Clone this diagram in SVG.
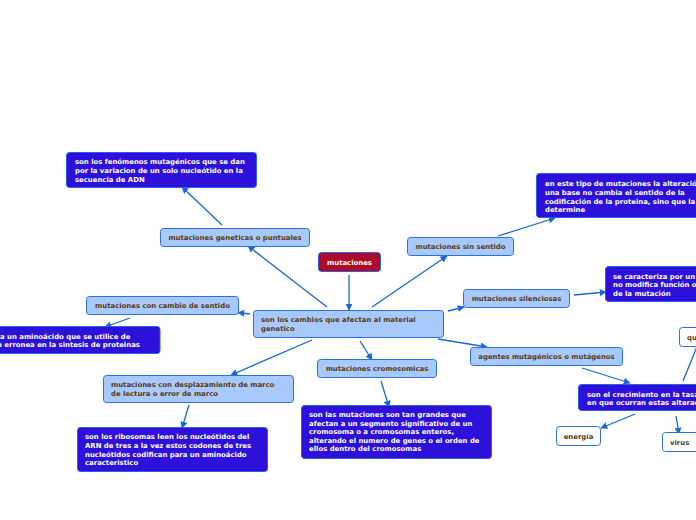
<svg xmlns="http://www.w3.org/2000/svg" width="696" height="520" viewBox="0 0 696 520">
<style>
.lb{fill:#a8c9fb;stroke:#2a72e0;stroke-width:1}
.db{fill:#2d10d9;stroke:#2a60e8;stroke-width:1}
.wb{fill:#ffffff;stroke:#2a72e0;stroke-width:1}
.rb{fill:#ab0d2b;stroke:#2a60e8;stroke-width:1}
text{font-family:"DejaVu Sans",Verdana,sans-serif;font-weight:bold;font-size:6.9px}
.tl{fill:#5a3814}
.tw{fill:#ffffff}
.c{text-anchor:middle}
.con line{stroke:#1a66d8;stroke-width:1.3;marker-end:url(#ah)}
</style>
<defs>
<marker id="ah" viewBox="0 0 10 10" refX="9" refY="5" markerWidth="7" markerHeight="7" markerUnits="userSpaceOnUse" orient="auto">
<path d="M0,0 L10,5 L0,10 z" fill="#1a66d8"/>
</marker>
</defs>
<rect width="696" height="520" fill="#ffffff"/>
<g class="con">
<line x1="349" y1="275" x2="349" y2="310"/>
<line x1="327" y1="307" x2="248" y2="246"/>
<line x1="222" y1="225" x2="182" y2="187"/>
<line x1="250" y1="314" x2="238" y2="312.5"/>
<line x1="130" y1="318" x2="105" y2="327"/>
<line x1="372" y1="307" x2="447" y2="256"/>
<line x1="498" y1="236" x2="555" y2="218"/>
<line x1="448" y1="311" x2="464" y2="307"/>
<line x1="574" y1="295" x2="606" y2="292"/>
<line x1="438" y1="339" x2="487" y2="347"/>
<line x1="582" y1="368" x2="630" y2="383"/>
<line x1="635" y1="414" x2="601" y2="428"/>
<line x1="676" y1="416" x2="679" y2="434"/>
<line x1="683" y1="381" x2="699" y2="342"/>
<line x1="360" y1="341" x2="372" y2="360"/>
<line x1="381" y1="381" x2="389" y2="407"/>
<line x1="312" y1="340" x2="231" y2="375"/>
<line x1="189" y1="405" x2="182" y2="428"/>
</g>
<g id="mutaciones"><rect class="rb" x="318.5" y="252.5" width="62" height="19" rx="3"/><text class="tw c" x="349.5" y="264.5">mutaciones</text></g>
<g id="central"><rect class="lb" x="253.5" y="310.5" width="190" height="27" rx="3"/><text class="tl" x="261" y="322">son los cambios que afectan al material</text><text class="tl" x="261" y="331">genetico</text></g>
<g id="puntuales"><rect class="lb" x="160.5" y="228.5" width="149" height="18" rx="3"/><text class="tl c" x="235" y="240">mutaciones geneticas o puntuales</text></g>
<g id="fenomenos"><rect class="db" x="66.5" y="152.5" width="190" height="35" rx="3"/><text class="tw" x="75" y="164">son los fenómenos mutagénicos que se dan</text><text class="tw" x="75" y="173">por la variacion de un solo nucleótido en la</text><text class="tw" x="75" y="182">secuencia de ADN</text></g>
<g id="sinsentido"><rect class="lb" x="407.5" y="237.5" width="106" height="18" rx="3"/><text class="tl c" x="460.5" y="249">mutaciones sin sentido</text></g>
<g id="estetipo"><rect class="db" x="536.5" y="173.5" width="170" height="44" rx="3"/><text class="tw" x="545" y="186">en este tipo de mutaciones la alteración</text><text class="tw" x="545" y="195">una base no cambia el sentido de la</text><text class="tw" x="545" y="204">codificación de la proteina, sino que la</text><text class="tw" x="545" y="212">determine</text></g>
<g id="silenciosas"><rect class="lb" x="463.5" y="289.5" width="106" height="18" rx="3"/><text class="tl c" x="516.5" y="301">mutaciones silenciosas</text></g>
<g id="caracteriza"><rect class="db" x="605.5" y="266.5" width="100" height="35" rx="3"/><text class="tw" x="613" y="279">se caracteriza por un</text><text class="tw" x="613" y="287">no modifica función o</text><text class="tw" x="613" y="296">de la mutación</text></g>
<g id="agentes"><rect class="lb" x="470.5" y="347.5" width="152" height="18" rx="3"/><text class="tl c" x="546.5" y="359">agentes mutagénicos o mutágenos</text></g>
<g id="crecimiento"><rect class="db" x="578.5" y="384.5" width="130" height="26" rx="3"/><text class="tw" x="587" y="397">son el crecimiento en la tasa</text><text class="tw" x="587" y="405">en que ocurran estas alterac</text></g>
<g id="energia"><rect class="wb" x="556.5" y="426.5" width="44" height="19" rx="3"/><text class="tl c" x="578.5" y="438.5">energía</text></g>
<g id="virus"><rect class="wb" x="662.5" y="432.5" width="40" height="19" rx="3"/><text class="tl" x="670" y="444.5">virus</text></g>
<g id="qu"><rect class="wb" x="679.5" y="327.5" width="30" height="19" rx="3"/><text class="tl" x="687" y="339.5">qu</text></g>
<g id="cambiosentido"><rect class="lb" x="86.5" y="296.5" width="152" height="18" rx="3"/><text class="tl c" x="162.5" y="308">mutaciones con cambio de sentido</text></g>
<g id="aminoacido"><rect class="db" x="-20" y="326.5" width="180" height="27" rx="3"/><text class="tw" x="0" y="339">a un aminoácido que se utilice de</text><text class="tw" x="-3" y="347">n erronea en la sintesis de proteinas</text></g>
<g id="desplazamiento"><rect class="lb" x="103.5" y="375.5" width="190" height="27" rx="3"/><text class="tl" x="111" y="387">mutaciones con desplazamiento de marco</text><text class="tl" x="111" y="396">de lectura o error de marco</text></g>
<g id="ribosomas"><rect class="db" x="77.5" y="427.5" width="190" height="44" rx="3"/><text class="tw" x="85" y="439">son los ribosomas leen los nucleótidos del</text><text class="tw" x="85" y="448">ARN de tres a la vez estos codones de tres</text><text class="tw" x="85" y="457">nucleótidos codifican para un aminoácido</text><text class="tw" x="85" y="465">caracteristico</text></g>
<g id="cromosomicas"><rect class="lb" x="317.5" y="359.5" width="119" height="18" rx="3"/><text class="tl c" x="377" y="371">mutaciones cromosomicas</text></g>
<g id="cromosomas"><rect class="db" x="301.5" y="405.5" width="190" height="53" rx="3"/><text class="tw" x="309" y="417">son las mutaciones son tan grandes que</text><text class="tw" x="309" y="425.5">afectan a un segmento significativo de un</text><text class="tw" x="309" y="434">cromosoma o a cromosomas enteros,</text><text class="tw" x="309" y="443">alterando el numero de genes o el orden de</text><text class="tw" x="309" y="451">ellos dentro del cromosomas</text></g>
</svg>
